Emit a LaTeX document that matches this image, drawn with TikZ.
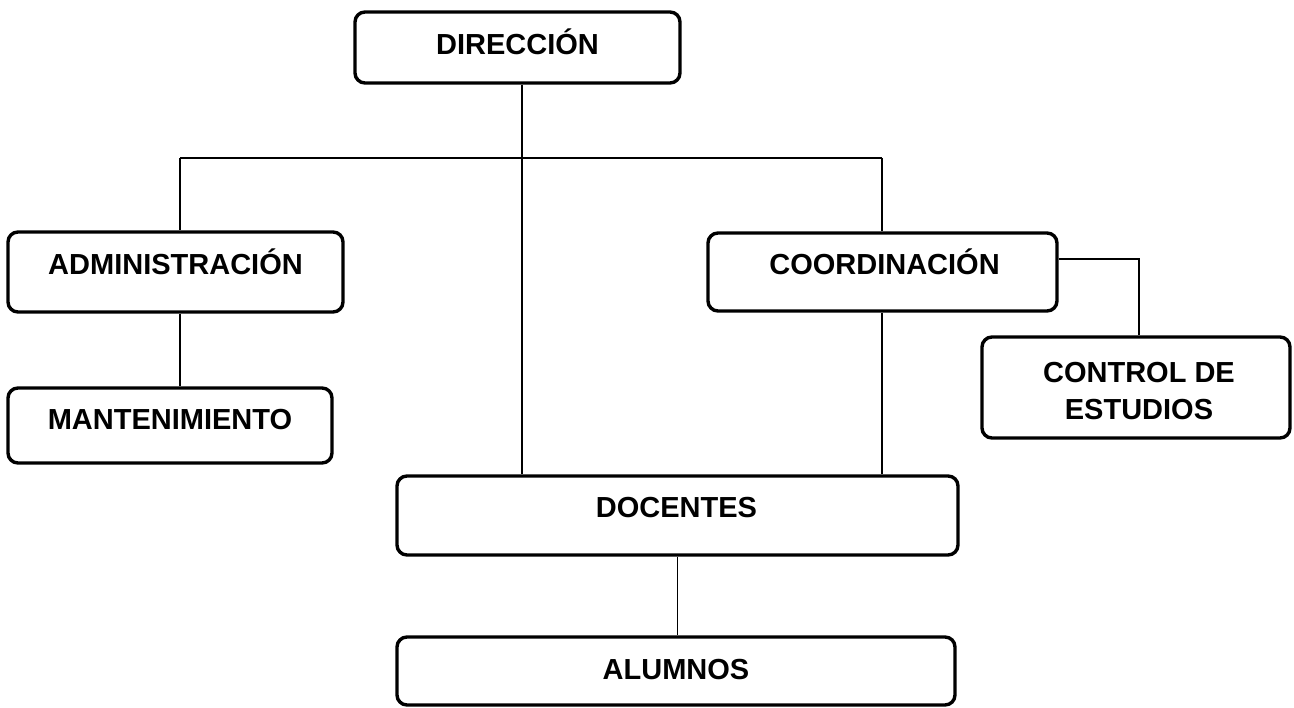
\documentclass[tikz,border=0pt]{standalone}
\usepackage{fontspec}
\setmainfont{Liberation Sans}
\begin{document}
\begin{tikzpicture}[x=1pt,y=-1pt,
  orgbox/.style={draw=black, line width=3.4pt, rounded corners=10pt, inner sep=0pt, fill=white},
  lbl/.style={font=\fontsize{29}{37}\selectfont\bfseries, inner sep=0pt, anchor=base, text height=20pt, text depth=0pt},
  lbltwo/.style={font=\fontsize{29}{37}\selectfont\bfseries, inner sep=0pt, align=center},
  conn/.style={draw=black, line width=1.3pt}]
\useasboundingbox (0,0) rectangle (1294,708);
% boxes (center, width, height)
\node[orgbox, minimum width=325pt, minimum height=71pt] (dir) at (517.5,47.5) {};
\node[orgbox, minimum width=335pt, minimum height=80pt] (adm) at (175.5,272) {};
\node[orgbox, minimum width=324pt, minimum height=75pt] (mant) at (170,425.5) {};
\node[orgbox, minimum width=349pt, minimum height=78pt] (coord) at (882.5,272) {};
\node[orgbox, minimum width=308pt, minimum height=101pt] (ctrl) at (1136,387.5) {};
\node[orgbox, minimum width=561pt, minimum height=79pt] (doc) at (677.5,515.5) {};
\node[orgbox, minimum width=558pt, minimum height=68pt] (alum) at (676,671) {};
% texts
\node[lbl] (dirT) at (517.5,55) {DIRECCIÓN};
\node[lbl] (admT) at (175.5,275) {ADMINISTRACIÓN};
\node[lbl] (mantT) at (170,430) {MANTENIMIENTO};
\node[lbl] (coordT) at (884.5,275) {COORDINACIÓN};
\node[lbltwo] (ctrlT) at (1139,391.5) {CONTROL DE\\ESTUDIOS};
\node[lbl] (docT) at (676.5,518) {DOCENTES};
\node[lbl] (alumT) at (676,679) {ALUMNOS};
% junction coordinates
\coordinate (jm) at (522,158);
\coordinate (jl) at (180,158);
\coordinate (jr) at (882,158);
\coordinate (jc) at (1139,259);
% connectors
\draw[conn] (jl) -- (jr);
\draw[conn] (dir.south -| jm) -- (doc.north -| jm);
\draw[conn] (jl) -- (adm.north -| jl);
\draw[conn] (jr) -- (coord.north -| jr);
\draw[conn] (adm.south -| jl) -- (mant.north -| jl);
\draw[conn] (coord.south -| jr) -- (doc.north -| jr);
\draw[conn] (coord.east |- jc) -- (jc) -- (ctrl.north -| jc);
\draw[conn] (doc.south) -- (doc.south |- alum.north);
\end{tikzpicture}
\end{document}
